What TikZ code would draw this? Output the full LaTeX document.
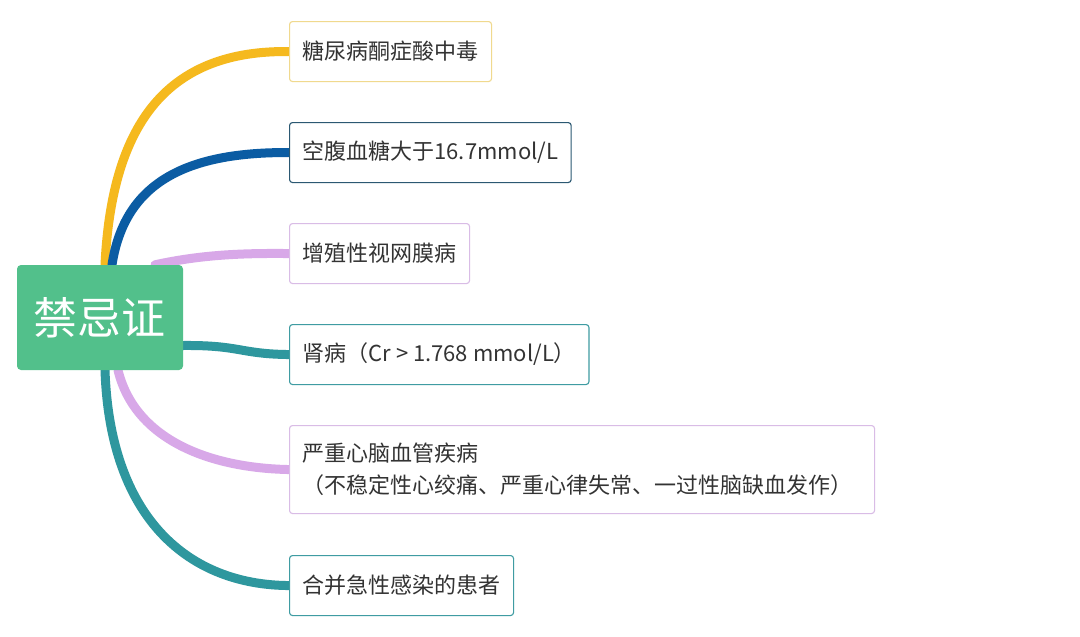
\documentclass[tikz,border=0pt]{standalone}
\usepackage{fontspec}
\setmainfont{Noto Sans CJK SC}
\usetikzlibrary{backgrounds}

\definecolor{rootgreen}{HTML}{52C08B}
\definecolor{lineyellow}{HTML}{F5B91E}
\definecolor{lineblue}{HTML}{0B5CA3}
\definecolor{linelilac}{HTML}{D8A8E8}
\definecolor{lineteal}{HTML}{2E979E}
\definecolor{edgeyellow}{HTML}{F0D98E}
\definecolor{edgeblue}{HTML}{2B5872}
\definecolor{edgelilac}{HTML}{D9BCE6}
\definecolor{edgeteal}{HTML}{3F9CA2}
\definecolor{textgray}{HTML}{333333}

\tikzset{
  rootbox/.style={fill=rootgreen, rounded corners=4pt, text=white,
    minimum width=166pt, minimum height=105pt, font=\fontsize{44}{46}\selectfont},
  leafbox/.style={draw, fill=white, rounded corners=3pt, line width=1.1pt,
    text=textgray, anchor=north west, align=left, inner xsep=13pt,
    minimum height=60pt, font=\fontsize{22}{32}\selectfont},
  branch/.style={line width=9pt, line cap=round}
}

\begin{document}
\begin{tikzpicture}[x=1pt, y=-1pt]
\useasboundingbox (0, 0) rectangle (1080, 637);

\node[rootbox] (root) at (100, 317.5) {禁忌证};

\node[leafbox, draw=edgeyellow] (dka) at (289, 21) {糖尿病酮症酸中毒};
\node[leafbox, draw=edgeblue] (glu) at (289, 122) {空腹血糖大于16.7mmol/L};
\node[leafbox, draw=edgelilac] (eye) at (289, 223) {增殖性视网膜病};
\node[leafbox, draw=edgeteal] (kid) at (289, 324) {肾病（Cr > 1.768 mmol/L）};
\node[leafbox, draw=edgelilac, minimum height=88pt, text width=559pt] (cvd) at (289, 425)
  {严重心脑血管疾病\\ （不稳定性心绞痛、严重心律失常、一过性脑缺血发作）};
\node[leafbox, draw=edgeteal] (inf) at (289, 555) {合并急性感染的患者};

% branches behind the boxes
\begin{scope}[on background layer]
\fill[white] (0, 0) rectangle (1080, 637);
\draw[branch, lineyellow] ([xshift=5pt]root.north) .. controls (112, 120) and (170, 50) .. (dka.west);
\draw[branch, lineblue] ([xshift=12pt]root.north) .. controls (125, 180) and (190, 152) .. (glu.west);
\draw[branch, linelilac] ([xshift=55pt]root.north) .. controls (200, 255) and (240, 253) .. (eye.west);
\draw[branch, lineteal] ([yshift=-28pt]root.east) .. controls (240, 345) and (240, 354) .. (kid.west);
\draw[branch, linelilac] ([xshift=18pt]root.south) .. controls (135, 440) and (210, 468) .. (cvd.west);
\draw[branch, lineteal] ([xshift=5pt]root.south) .. controls (110, 520) and (190, 585) .. (inf.west);
\end{scope}
\end{tikzpicture}
\end{document}
